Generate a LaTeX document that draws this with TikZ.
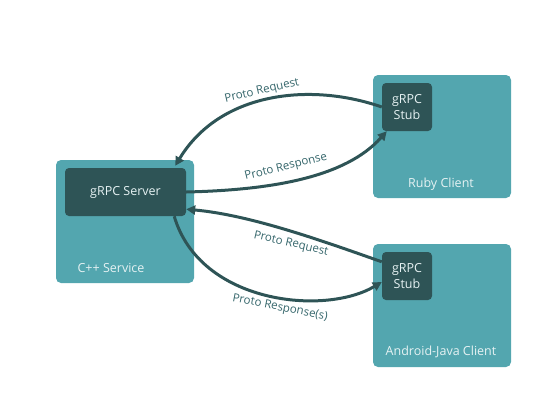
\documentclass[tikz,border=0pt]{standalone}
\usepackage{fontspec}
\setmainfont{Open Sans}
\usetikzlibrary{arrows.meta}
\definecolor{boxteal}{HTML}{53A6AF}
\definecolor{stubdark}{HTML}{2E5456}
\definecolor{boxtext}{HTML}{E6F2F3}
\definecolor{tagtext}{HTML}{35666B}
\begin{document}
\begin{tikzpicture}[>={Triangle[length=9pt,width=9pt]},x=1pt,y=-1pt,font=\fontsize{12.5}{16}\selectfont,
		service/.style={fill=boxteal,rounded corners=5pt,minimum width=138pt,minimum height=123pt,inner sep=0pt},
		stub/.style={fill=stubdark,rounded corners=4pt,text=boxtext,align=center,inner sep=0pt,minimum height=48pt},
		caption/.style={text=boxtext},
		flow/.style={->,draw=stubdark,line width=3pt},
		tag/.style={text=tagtext,font=\fontsize{11.5}{14}\selectfont}]
		\useasboundingbox (0,0) rectangle (551,400);
		% services and stubs
		\node[service] (cpp) at (125,221.5) {};
		\node[service] (ruby) at (442,136.5) {};
		\node[service] (android) at (442,305.5) {};
		\node[stub,minimum width=121pt] (server) at (125.5,192) {gRPC Server};
		\node[stub,minimum width=50pt] (rstub) at (407,107) {gRPC\\Stub};
		\node[stub,minimum width=50pt] (astub) at (407,276) {gRPC\\Stub};
		\node[caption] (cppcap) at (111,268) {C++ Service};
		\node[caption] (rubycap) at (441,184) {Ruby Client};
		\node[caption] (androidcap) at (441,352) {Android-Java Client};
		% calls
		\draw[flow] (rstub.west) .. controls (310,82) and (220,92) .. ([xshift=-11pt,yshift=2pt]server.north east);
		\draw[flow] (server.east) .. controls (270,190) and (345,178) .. ([xshift=5pt]rstub.south west);
		\draw[flow] ([yshift=-10pt]astub.north west) .. controls (320,240) and (250,215) .. ([yshift=7pt]server.south east);
		\draw[flow] ([xshift=-12pt]server.south east) .. controls (200,304) and (325,316) .. ([yshift=-6pt]astub.west);
		\node[tag,rotate=13] (req1) at (262,91) {Proto Request};
		\node[tag,rotate=14] (resp1) at (286,167) {Proto Response};
		\node[tag,rotate=-13] (req2) at (291,244) {Proto Request};
		\node[tag,rotate=-11] (resp2) at (280,308) {Proto Response(s)};
\end{tikzpicture}
\end{document}
